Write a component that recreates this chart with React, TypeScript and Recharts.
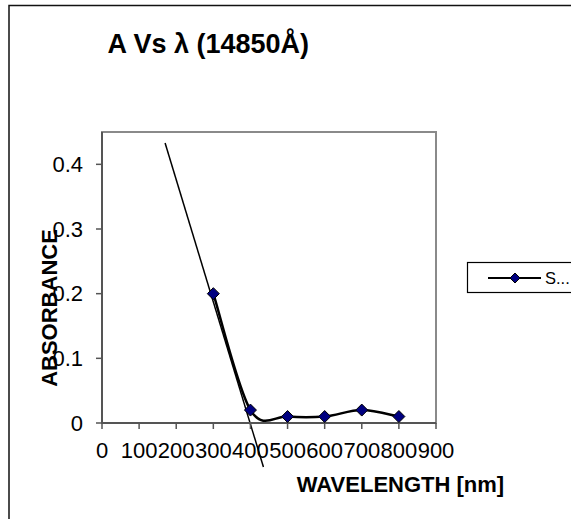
import React from 'react';
import { LineChart, Line, XAxis, YAxis, ReferenceLine, ReferenceArea, Legend } from 'recharts';

const wavelengths = [300, 400, 500, 600, 700, 800];
const absorbance = [0.2, 0.02, 0.01, 0.01, 0.02, 0.01];
const xTicks = [0, 100, 200, 300, 400, 500, 600, 700, 800, 900];
const yTicks = [0, 0.1, 0.2, 0.3, 0.4];
// hand-drawn tangent line, runs past the bottom of the plot
const tangentX = [170, 435];
const tangentY = [0.433, -0.068];

const data = wavelengths.map((x, i) => ({ x, a: absorbance[i] }));

const FONT = "'Liberation Sans', Arial, sans-serif";

// the chart fills the window edge to edge, like the exported picture
document.body.style.margin = '0';
document.body.style.overflow = 'hidden';

// Excel "smoothed line": Catmull-Rom through each point as cubic Béziers
const excelSmooth = (ctx: any) => {
  let pts: number[][] = [];
  return {
    areaStart() {},
    areaEnd() {},
    lineStart() {
      pts = [];
    },
    point(x: number, y: number) {
      pts.push([+x, +y]);
    },
    lineEnd() {
      if (!pts.length) return;
      ctx.moveTo(pts[0][0], pts[0][1]);
      for (let i = 0; i < pts.length - 1; i++) {
        const p0 = pts[Math.max(i - 1, 0)];
        const p1 = pts[i];
        const p2 = pts[i + 1];
        const p3 = pts[Math.min(i + 2, pts.length - 1)];
        ctx.bezierCurveTo(
          p1[0] + (p2[0] - p0[0]) / 6,
          p1[1] + (p2[1] - p0[1]) / 6,
          p2[0] - (p3[0] - p1[0]) / 6,
          p2[1] - (p3[1] - p1[1]) / 6,
          p2[0],
          p2[1],
        );
      }
    },
  };
};

const Diamond = (props: any) => {
  const { cx, cy } = props;
  if (cx == null || cy == null) return <g />;
  const r = 6;
  return (
    <path
      d={`M${cx},${cy - r}L${cx + r},${cy}L${cx},${cy + r}L${cx - r},${cy}Z`}
      fill="#000080"
      stroke="#000"
      strokeWidth={1}
    />
  );
};

const LegendBox = () => (
  <svg width={140} height={32} style={{ display: 'block', overflow: 'visible' }}>
    <rect x={0.5} y={0.5} width={130} height={30} fill="#fff" stroke="#000" strokeWidth={1.2} />
    <line x1={21} y1={16} x2={74} y2={16} stroke="#000" strokeWidth={2} />
    <path d="M48,11L53,16L48,21L43,16Z" fill="#000080" stroke="#000" strokeWidth={1} />
    <text x={78} y={22} fontSize={16.5} fontFamily={FONT} fill="#000">
      S...
    </text>
  </svg>
);

export default function App() {
  const tickStyle = { fill: '#000', fontSize: 22, fontFamily: FONT };
  return (
    <div style={{ position: 'relative', width: 571, height: 519, overflow: 'hidden', background: '#fff' }}>
      <LineChart width={571} height={519} data={data} margin={{ top: 132, right: 135, bottom: 0, left: 0 }}>
        <ReferenceArea x1={0} x2={900} y1={0} y2={0.45} fill="none" stroke="#8a8a8a" strokeWidth={2} ifOverflow="visible" />
        <XAxis
          type="number"
          dataKey="x"
          domain={[0, 900]}
          ticks={xTicks}
          interval={0}
          height={96}
          tick={tickStyle}
          tickSize={6}
          tickMargin={13}
          axisLine={{ stroke: '#555', strokeWidth: 2 }}
          tickLine={{ stroke: '#555', strokeWidth: 1.5 }}
        />
        <YAxis
          type="number"
          domain={[0, 0.45]}
          allowDataOverflow
          ticks={yTicks}
          interval={0}
          width={102}
          tick={tickStyle}
          tickSize={6}
          tickMargin={13}
          axisLine={{ stroke: '#555', strokeWidth: 2 }}
          tickLine={{ stroke: '#555', strokeWidth: 1.5 }}
        />
        <ReferenceLine
          segment={[
            { x: tangentX[0], y: tangentY[0] },
            { x: tangentX[1], y: tangentY[1] },
          ]}
          stroke="#000"
          strokeWidth={1.5}
          ifOverflow="visible"
        />
        <Line
          dataKey="a"
          type={excelSmooth as any}
          stroke="#000"
          strokeWidth={2.5}
          dot={<Diamond />}
          activeDot={false}
          isAnimationActive={false}
        />
        <Legend
          layout="horizontal"
          align="center"
          verticalAlign="middle"
          content={() => <LegendBox />}
          wrapperStyle={{ left: 467, top: 262, width: 140, height: 32 }}
        />
        {/* outer chart frame, cut off at the right and bottom */}
        <path d="M9,519V5.5H571" fill="none" stroke="#111" strokeWidth={1.5} />
        <text x={107.5} y={53.3} fontSize={27} fontWeight="bold" fontFamily={FONT} fill="#000">
          A Vs λ (14850Å)
        </text>
        <text
          x={56.5}
          y={308}
          fontSize={22}
          fontWeight="bold"
          fontFamily={FONT}
          fill="#000"
          textAnchor="middle"
          transform="rotate(-90 56.5 308)"
        >
          ABSORBANCE
        </text>
        <text x={400.5} y={491.7} fontSize={22} fontWeight="bold" fontFamily={FONT} fill="#000" textAnchor="middle">
          WAVELENGTH [nm]
        </text>
      </LineChart>
    </div>
  );
}
